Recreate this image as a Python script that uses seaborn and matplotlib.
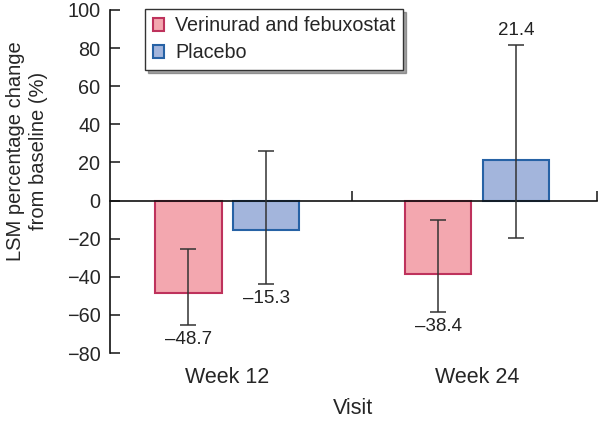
import numpy as np
import pandas as pd
import matplotlib
matplotlib.use('Agg')
import matplotlib.pyplot as plt
import seaborn as sns

sns.set_style('ticks')
plt.rcParams['font.family'] = ['Liberation Sans', 'DejaVu Sans']
plt.rcParams['axes.unicode_minus'] = True

# data
visits = ['Week 12', 'Week 24']
groups = ['Verinurad and febuxostat', 'Placebo']
lsm_drug = [-48.7, -38.4]
lsm_placebo = [-15.3, 21.4]
ci_low_drug = [-65.3, -58.4]
ci_high_drug = [-25.3, -10.0]
ci_low_placebo = [-43.7, -19.5]
ci_high_placebo = [25.8, 81.6]

df = pd.DataFrame({
    'visit': visits * 2,
    'group': [groups[0]] * 2 + [groups[1]] * 2,
    'value': lsm_drug + lsm_placebo,
    'low': ci_low_drug + ci_low_placebo,
    'high': ci_high_drug + ci_high_placebo,
})

fill = {groups[0]: '#F3A7AF', groups[1]: '#A3B5DC'}
edge = {groups[0]: '#BE325C', groups[1]: '#2762A5'}

fig = plt.figure(figsize=(5.98, 4.21), dpi=100)
ax = fig.add_axes([0.184, 0.1615, 0.814, 0.815])

sns.barplot(data=df, x='visit', y='value', hue='group', order=visits,
            hue_order=groups, palette=fill, width=0.624, gap=0.15,
            errorbar=None, linewidth=1.5, saturation=1, ax=ax)

# edges, error bars and value labels per group
for cont, g in zip(ax.containers, groups):
    sub = df[df['group'] == g].set_index('visit').loc[visits]
    for bar in cont.patches:
        bar.set_edgecolor(edge[g])
    xs = [b.get_x() + b.get_width() / 2 for b in cont.patches]
    vals = sub['value'].values
    lo = vals - sub['low'].values
    hi = sub['high'].values - vals
    ax.errorbar(xs, vals, yerr=[lo, hi], fmt='none', ecolor='#333333',
                elinewidth=1.1, capsize=6, capthick=1.1, zorder=5)
    for x, v, l, h in zip(xs, vals, sub['low'].values, sub['high'].values):
        txt = f'{v:.1f}'.replace('-', '\u2013')
        if v < 0:
            ax.annotate(txt, (x, l), xytext=(0, -10.5), textcoords='offset points',
                        ha='center', va='center', fontsize=13.5, color='#222222')
        else:
            ax.annotate(txt, (x, h), xytext=(0, 10.5), textcoords='offset points',
                        ha='center', va='center', fontsize=13.5, color='#222222')

xmax = 1.48
ax.set_xlim(-0.47, xmax)
ax.set_ylim(-80, 100)
ax.set_yticks(np.arange(-80, 101, 20))

for s in ['top', 'right']:
    ax.spines[s].set_visible(False)
ax.spines['bottom'].set_position(('data', 0))
for s in ['bottom', 'left']:
    ax.spines[s].set_linewidth(1.2)
    ax.spines[s].set_color('#111111')

ax.set_xticks([0.5, xmax])
ax.set_xticklabels(['', ''])
ax.set_xticks([0, 1], minor=True)
ax.set_xticklabels(visits, minor=True)
ax.tick_params(axis='x', which='major', direction='in', length=7, width=1.2)
ax.tick_params(axis='x', which='minor', length=0, pad=120, labelsize=15.5)
ax.tick_params(axis='y', direction='in', length=7, width=1.2, pad=7,
               labelsize=14.3)

ax.set_xlabel('Visit', fontsize=15.5, labelpad=7)
ax.set_ylabel('LSM percentage change\nfrom baseline (%)', fontsize=14.5,
              linespacing=1.25)
ax.yaxis.set_label_coords(-0.128, 0.589)

handles, labels = ax.get_legend_handles_labels()
leg = ax.legend(handles, labels, loc='upper left', bbox_to_anchor=(0.072, 1.003),
                borderaxespad=0, fontsize=14.2, frameon=True, fancybox=False,
                shadow=True, handlelength=0.6, handleheight=0.6,
                handletextpad=0.55, labelspacing=0.4, borderpad=0.38)
leg.get_frame().set_edgecolor('#333333')
leg.get_frame().set_linewidth(1.0)
for h, g in zip(leg.legend_handles, groups):
    h.set_edgecolor(edge[g])
    h.set_linewidth(1.5)

fig.savefig('out.png', dpi=100)
